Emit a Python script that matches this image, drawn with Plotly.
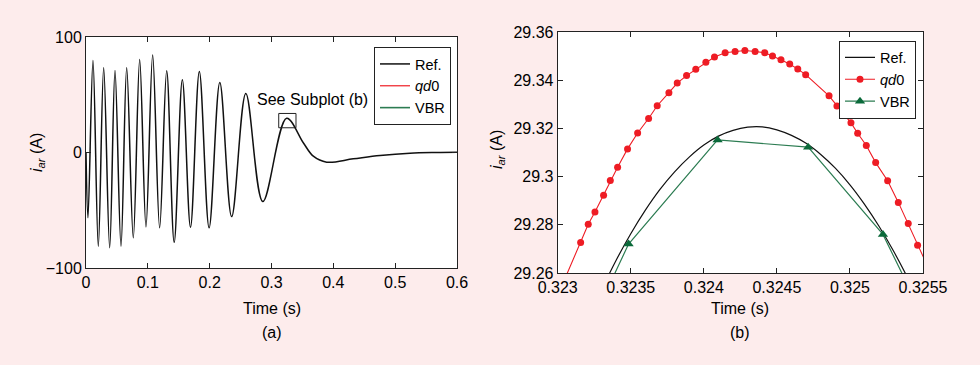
import plotly.graph_objects as go

# ---------------- data ----------------
# (a) full transient, reference waveform (extrema + a few tail points)
T_A = [0.0, 0.0032, 0.0113, 0.0199, 0.0286, 0.0383, 0.0469, 0.0566, 0.0658,
       0.0765, 0.0868, 0.0970, 0.1078, 0.1191, 0.1305, 0.1426, 0.1558, 0.1690,
       0.1833, 0.1991, 0.2164, 0.2356, 0.2585, 0.2860, 0.3245, 0.3514, 0.3676,
       0.3892, 0.4323, 0.4755, 0.524, 0.567, 0.6]
I_A = [0.0, -56.5, 79.6, -81.1, 73.3, -82.5, 71.0, -81.1, 73.3,
       -73.9, 80.5, -64.4, 84.5, -65.2, 70.7, -77.8, 62.9, -64.8,
       70.2, -65.2, 60.6, -55.5, 51.1, -42.5, 29.6, 8.4, -3.2,
       -8.4, -5.5, -2.6, -0.6, 0.0, 0.2]

# (b) zoom around the peak near t = 0.3244 s
T_REF = [0.3233, 0.3234, 0.3235, 0.3236, 0.3237, 0.3238, 0.3239, 0.3240,
         0.3241, 0.3242, 0.3243, 0.3244, 0.3245, 0.3246, 0.3247, 0.3248,
         0.3249, 0.3250, 0.3251, 0.3252, 0.3253, 0.3254, 0.3255]
I_REF = [29.2531, 29.2653, 29.2763, 29.2861, 29.2947, 29.3020, 29.3081, 29.3131,
         29.3168, 29.3192, 29.3205, 29.3206, 29.3194, 29.3171, 29.3138, 29.3092,
         29.3035, 29.2966, 29.2885, 29.2793, 29.2689, 29.2574, 29.2450]

T_QD0 = [0.32302, 0.323157, 0.323209, 0.323255, 0.323314, 0.323360, 0.323410,
         0.323478, 0.323547, 0.323622, 0.323681, 0.323761, 0.323818, 0.323882,
         0.323945, 0.324014, 0.324073, 0.324146, 0.324214, 0.324281, 0.324351,
         0.324417, 0.324470, 0.324528, 0.324588, 0.324643, 0.324697, 0.324857,
         0.324911, 0.324962, 0.325007, 0.325053, 0.325112, 0.325176, 0.325258,
         0.325331, 0.325399, 0.325463, 0.32553]
I_QD0 = [29.2535, 29.2727, 29.2802, 29.2853, 29.2923, 29.2984, 29.3039,
         29.3115, 29.3181, 29.3241, 29.3294, 29.3348, 29.3388, 29.3419,
         29.3445, 29.3474, 29.3496, 29.3514, 29.3519, 29.3523, 29.3519,
         29.3514, 29.3500, 29.3485, 29.3467, 29.3446, 29.3423, 29.3335,
         29.3293, 29.3256, 29.3223, 29.3180, 29.3129, 29.3058, 29.2983,
         29.2893, 29.2805, 29.2715, 29.2630]

T_VBR = [0.32290, 0.323485, 0.324094, 0.324714, 0.325226, 0.32580]
I_VBR = [29.1965, 29.2720, 29.3152, 29.3122, 29.2760, 29.2048]

# tick labels
XT_A = [0, 0.1, 0.2, 0.3, 0.4, 0.5, 0.6]
XT_A_TXT = ["0", "0.1", "0.2", "0.3", "0.4", "0.5", "0.6"]
YT_A = [-100, 0, 100]
YT_A_TXT = ["\u2212100", "0", "100"]
XT_B = [0.323, 0.3235, 0.324, 0.3245, 0.325, 0.3255]
XT_B_TXT = ["0.323", "0.3235", "0.324", "0.3245", "0.325", "0.3255"]
YT_B = [29.26, 29.28, 29.30, 29.32, 29.34, 29.36]
YT_B_TXT = ["29.26", "29.28", "29.3", "29.32", "29.34", "29.36"]

# zoom box in (a), data coordinates
ZOOM_BOX = dict(x0=0.3117, x1=0.3396, y0=21.4, y1=33.8)

# ---------------- styles ----------------
BG = "#fdecec"
BLACK = "#111111"
RED = "#ee1c24"
GREEN_LINE = "#2c7c52"
GREEN_MK = "#0b6a3a"
FONT = "Liberation Sans, Arial, Helvetica, sans-serif"

fig = go.Figure()

# ---- subplot (a)
fig.add_trace(go.Scatter(x=T_A, y=I_A, mode="lines", name="Ref.",
                         line=dict(color=BLACK, width=1.5, shape="spline", smoothing=1.0),
                         xaxis="x", yaxis="y", legend="legend"))
fig.add_trace(go.Scatter(x=[None], y=[None], mode="lines", name="<i>qd</i>0",
                         line=dict(color=RED, width=1.2),
                         xaxis="x", yaxis="y", legend="legend"))
fig.add_trace(go.Scatter(x=[None], y=[None], mode="lines", name="VBR",
                         line=dict(color=GREEN_LINE, width=1.6),
                         xaxis="x", yaxis="y", legend="legend"))

# ---- subplot (b)
fig.add_trace(go.Scatter(x=T_REF, y=I_REF, mode="lines", name="Ref.",
                         line=dict(color=BLACK, width=1.2, shape="spline", smoothing=1.0),
                         xaxis="x2", yaxis="y2", legend="legend2"))
fig.add_trace(go.Scatter(x=T_QD0, y=I_QD0, mode="lines+markers", name="<i>qd</i>0",
                         line=dict(color=RED, width=1.1),
                         marker=dict(color=RED, size=7, symbol="circle"),
                         xaxis="x2", yaxis="y2", legend="legend2"))
fig.add_trace(go.Scatter(x=T_VBR, y=I_VBR, mode="lines+markers", name="VBR",
                         line=dict(color=GREEN_LINE, width=1.2),
                         marker=dict(color=GREEN_MK, size=9, symbol="triangle-up"),
                         xaxis="x2", yaxis="y2", legend="legend2"))

axis_common = dict(showline=True, linecolor="#222", linewidth=1, mirror="ticks",
                   ticks="inside", ticklen=5, tickcolor="#222", showgrid=False,
                   zeroline=False, automargin=False,
                   tickfont=dict(size=16, color="black", family=FONT))

legend_common = dict(bgcolor="white", bordercolor="#222", borderwidth=1,
                     font=dict(size=14.5, color="black", family=FONT),
                     xanchor="right", yanchor="top", tracegroupgap=0, itemwidth=30)

fig.update_layout(
    width=980, height=365, autosize=False,
    margin=dict(l=0, r=0, t=0, b=0, pad=0),
    paper_bgcolor=BG, plot_bgcolor="white",
    font=dict(family=FONT, size=16, color="black"),
    xaxis=dict(domain=[86/980, 457/980], range=[0, 0.6], anchor="y",
               tickvals=XT_A, ticktext=XT_A_TXT, **axis_common),
    yaxis=dict(domain=[(365-268)/365, (365-37)/365], range=[-100, 100], anchor="x",
               tickvals=YT_A, ticktext=YT_A_TXT, **axis_common),
    xaxis2=dict(domain=[557.7/980, 923/980], range=[0.323, 0.3255], anchor="y2",
                tickvals=XT_B, ticktext=XT_B_TXT, **axis_common),
    yaxis2=dict(domain=[(365-273)/365, (365-32)/365], range=[29.26, 29.36], anchor="x2",
                tickvals=YT_B, ticktext=YT_B_TXT, **axis_common),
    legend=dict(x=451/980, y=(365-47)/365, **legend_common),
    legend2=dict(x=916/980, y=(365-40.5)/365, **legend_common),
    showlegend=True,
)

fig.add_shape(type="rect", xref="x", yref="y", line=dict(color="#222", width=1),
              **ZOOM_BOX)

ann = [
    dict(text="See Subplot (b)", x=0.3663, y=45.9, xref="x", yref="y"),
    dict(text="Time (s)", x=272/980, y=(365-308)/365, xref="paper", yref="paper"),
    dict(text="(a)", x=272/980, y=(365-332)/365, xref="paper", yref="paper"),
    dict(text="Time (s)", x=740/980, y=(365-308)/365, xref="paper", yref="paper"),
    dict(text="(b)", x=740/980, y=(365-332)/365, xref="paper", yref="paper"),
    dict(text="<i>i<sub>ar</sub></i> (A)", x=37/980, y=(365-153)/365,
         xref="paper", yref="paper", textangle=-90),
    dict(text="<i>i<sub>ar</sub></i> (A)", x=497/980, y=(365-150)/365,
         xref="paper", yref="paper", textangle=-90),
]
for a in ann:
    fig.add_annotation(showarrow=False, xanchor="center", yanchor="middle",
                       font=dict(size=16, color="black", family=FONT), **a)

fig.write_html(
    "out.html",
    config={"displayModeBar": False},
    post_script=("document.body.style.margin='0';"
                 "document.body.style.overflow='hidden';"
                 "document.documentElement.style.overflow='hidden';"
                 "document.body.style.background='#fdecec';"),
)
